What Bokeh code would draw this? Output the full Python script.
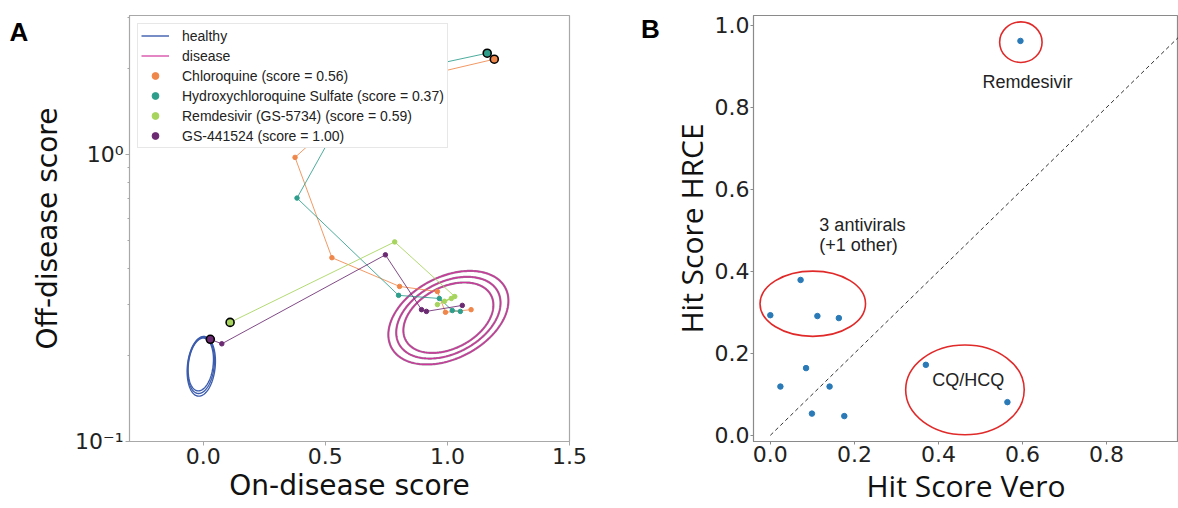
import numpy as np
from bokeh.plotting import figure
from bokeh.models import (Legend, LegendItem, FixedTicker, CustomJSTickFormatter,
                          PrintfTickFormatter)
from bokeh.layouts import row
from bokeh.embed import file_html
from bokeh.resources import INLINE
from bokeh.core.properties import value

# ---------------- Panel A data ----------------
drug_labels = ["Chloroquine (score = 0.56)",
               "Hydroxychloroquine Sulfate (score = 0.37)",
               "Remdesivir (GS-5734) (score = 0.59)",
               "GS-441524 (score = 1.00)"]
drug_colors = ["#f0874a", "#2e9e8c", "#a6d45c", "#6b2a72"]

cq_x = [1.097, 0.992, 0.959, 0.804, 0.527, 0.376, 0.690, 1.192]
cq_y = [0.288, 0.282, 0.333, 0.347, 0.437, 0.977, 1.706, 2.148]
hcq_x = [1.053, 1.020, 0.967, 0.800, 0.384, 0.653, 1.163]
hcq_y = [0.284, 0.286, 0.315, 0.323, 0.705, 1.818, 2.254]
rem_x = [0.959, 1.016, 0.988, 1.030, 0.784, 0.110]
rem_y = [0.300, 0.315, 0.308, 0.320, 0.496, 0.260]
gs_x = [1.061, 0.914, 0.894, 0.746, 0.076, 0.029]
gs_y = [0.298, 0.284, 0.288, 0.447, 0.219, 0.227]

# density contours (centre x, centre y, x half-width, x lean, log-y half-height, log-y tilt)
healthy_cx = [-0.010, -0.009, -0.008]
healthy_cy = [0.1855, 0.1842, 0.1828]
healthy_ax = [0.051, 0.054, 0.057]
healthy_dx = [0.010, 0.010, 0.010]
healthy_by = [0.092, 0.098, 0.104]
healthy_c = [0.0, 0.0, 0.0]

disease_cx = [1.004, 1.004, 1.004]
disease_cy = [0.270, 0.270, 0.270]
disease_ax = [0.183, 0.212, 0.244]
disease_dx = [0.022, 0.026, 0.030]
disease_by = [0.119, 0.138, 0.158]
disease_c = [0.030, 0.035, 0.040]

a_xticks = [0.0, 0.5, 1.0, 1.5]
a_yticks = [0.1, 1.0]
a_ytick_labels = ["10\u207b\u00b9", "10\u2070"]
a_yminor = [0.2, 0.3, 0.4, 0.5, 0.6, 0.7, 0.8, 0.9, 2.0, 3.0]

# ---------------- Panel B data ----------------
vero = [0.595, 0.072, 0.000, 0.112, 0.163, 0.085, 0.024, 0.141, 0.099, 0.176, 0.370, 0.564]
hrce = [0.962, 0.379, 0.293, 0.291, 0.286, 0.164, 0.119, 0.119, 0.053, 0.047, 0.172, 0.081]
circle_x = [0.596, 0.101, 0.463]
circle_y = [0.959, 0.321, 0.111]
circle_w = [0.101, 0.251, 0.282]
circle_h = [0.099, 0.159, 0.219]
annot_text = ["Remdesivir", "3 antivirals", "(+1 other)", "CQ/HCQ"]
annot_x = [0.612, 0.219, 0.210, 0.471]
annot_y = [0.863, 0.512, 0.464, 0.135]
b_ticks = [0.0, 0.2, 0.4, 0.6, 0.8, 1.0]

panel_letters = ["A", "B"]

TICK_FONT = "DejaVu Sans"
FRAME_A = "#a8a8a8"
FRAME_B = "#8a8a8a"
H = 508


def contour(cx, cy, ax, dx, by, c, n=240):
    t = np.linspace(0, 2 * np.pi, n)
    x = cx + ax * np.cos(t) + dx * np.sin(t)
    ly = np.log10(cy) + by * np.sin(t) + c * np.cos(t)
    return x, 10 ** ly


def letter_strip(width, letter, cx, cy_from_top):
    f = figure(width=width, height=H, x_range=(0, width), y_range=(0, H),
               output_backend="svg", toolbar_location=None, min_border=0,
               min_border_left=0, min_border_right=0, min_border_top=0,
               min_border_bottom=0)
    f.axis.visible = False
    f.grid.visible = False
    f.outline_line_color = None
    f.text(x=[cx], y=[H - cy_from_top], text=[letter],
           text_font=value("Liberation Sans"), text_font_style="bold",
           text_font_size="26px", text_align="center", text_baseline="middle",
           text_color="black")
    return f


# ---------------- Figure A ----------------
pA = figure(width=572, height=H, x_range=(-0.302, 1.5), y_range=(0.1, 3.05),
            y_axis_type="log", output_backend="svg", toolbar_location=None,
            min_border_left=101, min_border_right=31, min_border_top=15,
            min_border_bottom=64)
pA.xgrid.visible = False
pA.ygrid.visible = False
pA.outline_line_color = FRAME_A
pA.outline_line_width = 1.2

healthy_r = None
for i in range(3):
    hx, hy = contour(healthy_cx[i], healthy_cy[i], healthy_ax[i], healthy_dx[i],
                     healthy_by[i], healthy_c[i])
    r = pA.line(hx, hy, line_color="#3c5dad", line_width=1.4)
    healthy_r = healthy_r or r

disease_r = None
for i in range(3):
    dxs, dys = contour(disease_cx[i], disease_cy[i], disease_ax[i], disease_dx[i],
                       disease_by[i], disease_c[i])
    pA.line(dxs, dys, line_color="#5a1f55", line_width=2.2, line_alpha=0.6)
    r = pA.line(dxs, dys, line_color="#d0359a", line_width=1.2)
    disease_r = disease_r or r

series = [(cq_x, cq_y), (hcq_x, hcq_y), (rem_x, rem_y), (gs_x, gs_y)]
drug_renderers = []
for (xs, ys), col in zip(series, drug_colors):
    pA.line(xs, ys, line_color=col, line_width=1.0, line_alpha=0.85)
    r = pA.scatter(xs[:-1], ys[:-1], size=4.5, fill_color=col, line_color=col)
    pA.scatter([xs[-1]], [ys[-1]], size=8, fill_color=col, line_color="black",
               line_width=1.6)
    drug_renderers.append(r)

items = [LegendItem(label="healthy", renderers=[healthy_r]),
         LegendItem(label="disease", renderers=[disease_r])]
for lab, r in zip(drug_labels, drug_renderers):
    items.append(LegendItem(label=lab, renderers=[r]))
leg = Legend(items=items, location="top_left", margin=8, padding=3, spacing=3,
             glyph_width=28, glyph_height=17, label_height=17, label_standoff=13,
             label_text_font="Liberation Sans", label_text_font_size="14px",
             label_text_color="#222222", border_line_color="#d0d0d0",
             background_fill_color="white", background_fill_alpha=1.0)
pA.add_layout(leg)

pA.xaxis.ticker = FixedTicker(ticks=a_xticks)
pA.yaxis.ticker = FixedTicker(ticks=a_yticks, minor_ticks=a_yminor)
pA.yaxis.formatter = CustomJSTickFormatter(
    args=dict(vals=a_yticks, labs=a_ytick_labels),
    code="""
    for (let i = 0; i < vals.length; i++) {
        if (Math.abs(vals[i] - tick) < 1e-6 * Math.max(1, Math.abs(tick))) return labs[i];
    }
    return '';
    """)
pA.xaxis.formatter = PrintfTickFormatter(format="%.1f")
pA.xaxis.axis_label = "On-disease score"
pA.yaxis.axis_label = "Off-disease score"
for ax in (pA.xaxis[0], pA.yaxis[0]):
    ax.axis_label_text_font = "DejaVu Sans"
    ax.axis_label_text_font_size = "28px"
    ax.axis_label_text_font_style = "normal"
    ax.axis_label_text_color = "#111111"
    ax.major_label_text_font = TICK_FONT
    ax.major_label_text_font_size = "22px"
    ax.major_label_text_color = "#222222"
    ax.axis_line_color = FRAME_A
    ax.major_tick_line_color = FRAME_A
    ax.minor_tick_line_color = FRAME_A
    ax.major_tick_out = 4
    ax.major_tick_in = 0
    ax.minor_tick_out = 2
    ax.minor_tick_in = 0
    ax.major_label_standoff = 2
pA.xaxis.axis_label_standoff = 2
pA.yaxis.axis_label_standoff = 8

# ---------------- Figure B ----------------
pB = figure(width=512, height=H, x_range=(-0.04, 0.971), y_range=(-0.015, 1.024),
            output_backend="svg", toolbar_location=None,
            min_border_left=87, min_border_right=0, min_border_top=15,
            min_border_bottom=57)
pB.xgrid.visible = False
pB.ygrid.visible = False
pB.outline_line_color = FRAME_B
pB.outline_line_width = 1.2

pB.line([0, 1], [0, 1], line_color="#333333", line_width=1, line_dash="4 3")
pB.ellipse(x=circle_x, y=circle_y, width=circle_w, height=circle_h,
           fill_color=None, line_color="#e02a2a", line_width=1.6)
pB.scatter(vero, hrce, size=5.5, fill_color="#2a7ab8", line_color="#2a7ab8")
pB.text(x=annot_x, y=annot_y, text=annot_text, text_font=value("Liberation Sans"),
        text_font_size="18px", text_align="center", text_baseline="middle",
        text_color="#222222")

pB.xaxis.ticker = FixedTicker(ticks=b_ticks)
pB.yaxis.ticker = FixedTicker(ticks=b_ticks)
pB.xaxis.formatter = PrintfTickFormatter(format="%.1f")
pB.yaxis.formatter = PrintfTickFormatter(format="%.1f")
pB.xaxis.axis_label = "Hit Score Vero"
pB.yaxis.axis_label = "Hit Score HRCE"
for ax in (pB.xaxis[0], pB.yaxis[0]):
    ax.axis_label_text_font = "Open Sans"
    ax.axis_label_text_font_size = "30px"
    ax.axis_label_text_font_style = "normal"
    ax.axis_label_text_color = "#111111"
    ax.major_label_text_font = TICK_FONT
    ax.major_label_text_font_size = "22px"
    ax.major_label_text_color = "#222222"
    ax.axis_line_color = FRAME_B
    ax.major_tick_line_color = FRAME_B
    ax.major_tick_out = 3
    ax.major_tick_in = 0
    ax.minor_tick_out = 0
    ax.minor_tick_in = 0
    ax.major_label_standoff = 1
    ax.axis_label_standoff = 0

# panel letters in narrow strips beside each panel
stripA = letter_strip(28, panel_letters[0], 18.5, 20)
stripB = letter_strip(66, panel_letters[1], 50, 16)

layout = row(stripA, pA, stripB, pB, spacing=0)
open("out.html", "w").write(file_html(layout, INLINE))
